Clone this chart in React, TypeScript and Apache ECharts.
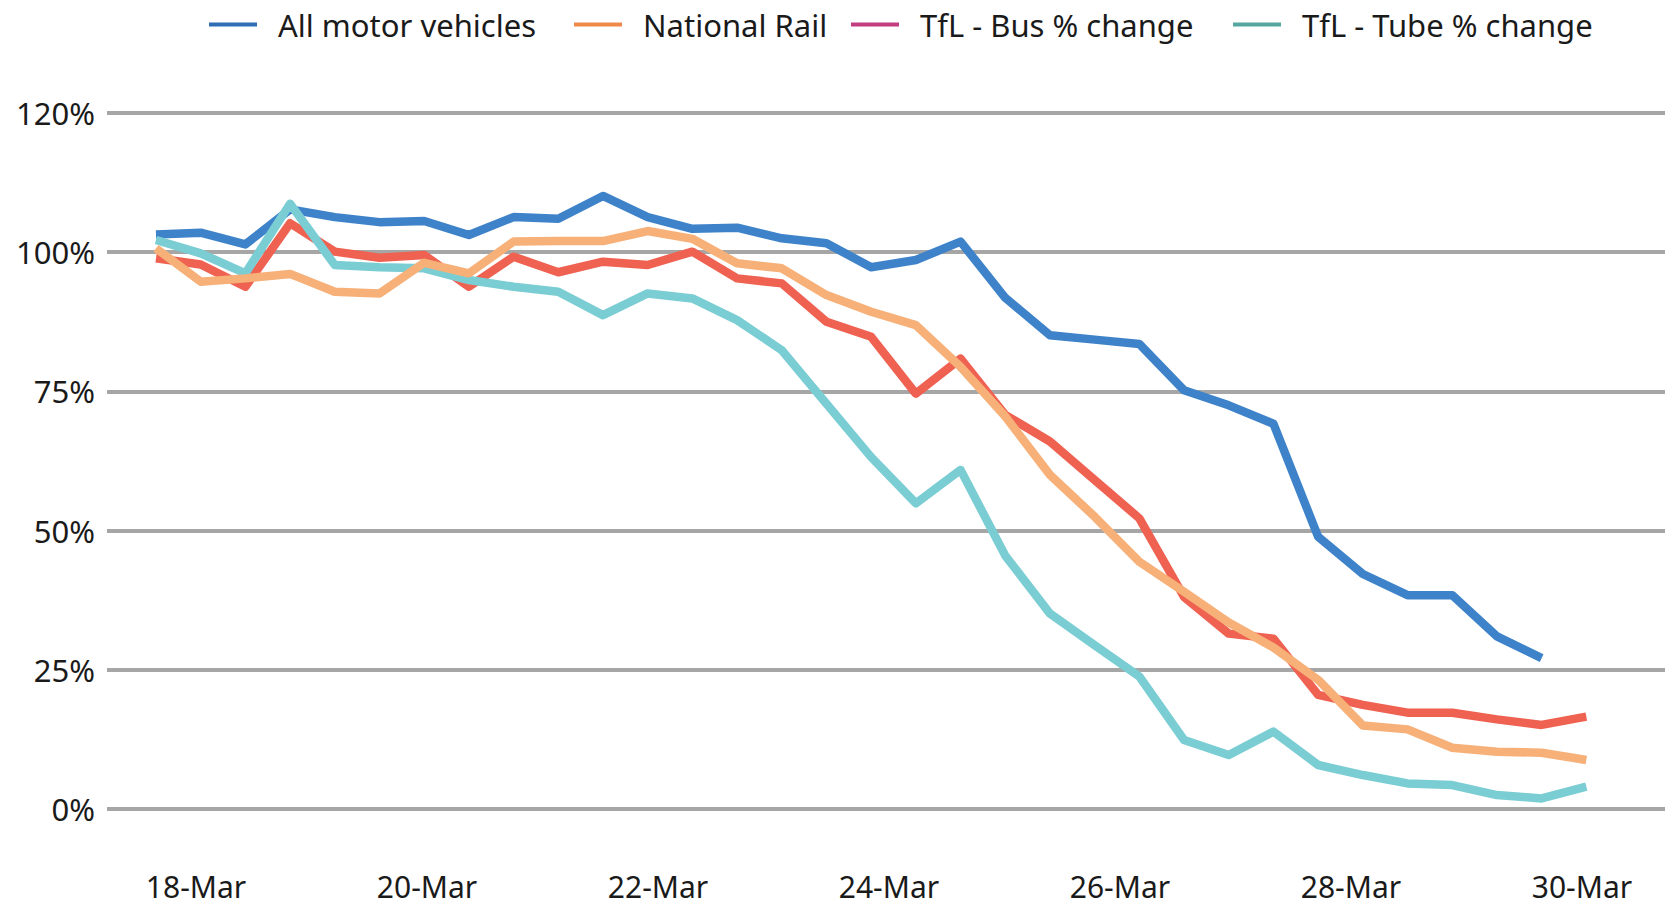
import React, { useEffect, useRef } from "react";
import * as echarts from "echarts";

const motorVehicles = [
  103.2, 103.5, 101.4, 107.7, 106.3, 105.4, 105.6, 103.1, 106.3, 106.0, 110.1,
  106.3, 104.2, 104.4, 102.5, 101.6, 97.3, 98.6, 101.9, 91.8, 85.1, 84.3, 83.5,
  75.2, 72.5, 69.2, 48.9, 42.2, 38.4, 38.4, 31.0, 27.1,
];
const nationalRail = [
  100.7, 94.7, 95.3, 96.1, 92.9, 92.6, 98.1, 96.2, 101.9, 102.0, 102.0, 103.8,
  102.4, 98.0, 97.1, 92.3, 89.3, 86.9, 79.4, 70.5, 60.0, 52.5, 44.4, 39.0, 33.5,
  29.0, 23.2, 15.0, 14.3, 11.0, 10.3, 10.1, 8.8,
];
const tflBus = [
  98.9, 97.8, 93.8, 105.2, 100.1, 99.0, 99.5, 93.8, 99.2, 96.4, 98.3, 97.7,
  100.1, 95.3, 94.4, 87.5, 84.8, 74.6, 80.9, 70.8, 66.0, 59.1, 52.2, 38.1, 31.5,
  30.6, 20.5, 18.7, 17.3, 17.3, 16.1, 15.1, 16.6,
];
const tflTube = [
  102.2, 99.8, 96.2, 108.7, 97.7, 97.3, 97.1, 95.0, 93.8, 92.9, 88.7, 92.6,
  91.7, 87.8, 82.4, 72.8, 63.2, 54.9, 60.9, 45.5, 35.1, 29.4, 23.8, 12.4, 9.7,
  13.9, 7.9, 6.1, 4.6, 4.3, 2.5, 1.9, 4.0,
];

// Axis labels
const dateLabels = ["18-Mar", "20-Mar", "22-Mar", "24-Mar", "26-Mar", "28-Mar", "30-Mar"];
const dateLabelDays = [0, 2, 4, 6, 8, 10, 12];
const yTickLabels = ["0%", "25%", "50%", "75%", "100%", "120%"];

const seriesNames = [
  "All motor vehicles",
  "National Rail",
  "TfL - Bus % change",
  "TfL - Tube % change",
];
const lineColors = ["#3E83C9", "#F6B078", "#EF6151", "#7BCDD4"];
const legendColors = ["#2F6DB5", "#EF8A4B", "#C23D7E", "#55A8A0"];
const legendLefts = [204, 569, 846, 1228];

const FONT = "'Noto Sans', sans-serif";

export default function App() {
  const ref = useRef<HTMLDivElement>(null);

  useEffect(() => {
    if (!ref.current) return;
    const chart = echarts.init(ref.current, undefined, { renderer: "svg" });

    const toPairs = (arr: number[]) => arr.map((v, i) => [i, v]);
    const dataSets = [motorVehicles, nationalRail, tflBus, tflTube];
    // drawing order: motor, bus, tube, rail (rail on top)
    const drawOrder = [0, 2, 3, 1];

    const series = drawOrder.map((idx) => ({
      name: seriesNames[idx],
      type: "line",
      xAxisIndex: 0,
      yAxisIndex: 0,
      data: toPairs(dataSets[idx]),
      symbol: "none",
      smooth: false,
      color: lineColors[idx],
      lineStyle: { width: 8.5, color: lineColors[idx], join: "round", cap: "butt" },
      emphasis: { disabled: true },
    }));

    const legends = seriesNames.map((name, i) => ({
      show: true,
      left: legendLefts[i],
      top: 4,
      orient: "horizontal",
      icon: "rect",
      itemWidth: 48,
      itemHeight: 4,
      selectedMode: false,
      textStyle: {
        fontFamily: FONT,
        fontSize: 31,
        color: "#1a1a1a",
        padding: [0, 0, 0, 16],
      },
      data: [
        {
          name,
          itemStyle: { color: legendColors[i] },
          lineStyle: { color: legendColors[i] },
        },
      ],
    }));

    chart.setOption({
      animation: false,
      backgroundColor: "#ffffff",
      legend: legends,
      grid: { left: 107, right: 0, top: 113, bottom: 99, containLabel: false },
      xAxis: [
        {
          type: "value",
          show: false,
          min: -1.096,
          max: 33.76,
          splitLine: { show: false },
        },
        {
          type: "value",
          position: "bottom",
          min: -0.771,
          max: 12.719,
          axisLine: { show: false },
          axisTick: { show: false },
          splitLine: { show: false },
          axisLabel: {
            customValues: dateLabelDays,
            formatter: (v: number) => {
              const i = dateLabelDays.indexOf(Math.round(v));
              return i >= 0 ? dateLabels[i] : "";
            },
            fontFamily: FONT,
            fontSize: 30,
            color: "#1a1a1a",
            margin: 62,
          },
        },
      ],
      yAxis: {
        type: "value",
        min: 0,
        max: 125,
        interval: 25,
        axisLine: { show: false },
        axisTick: { show: false },
        splitLine: { show: true, lineStyle: { color: "#A6A6A6", width: 4 } },
        axisLabel: {
          formatter: (v: number) => yTickLabels[Math.round(v / 25)] ?? "",
          fontFamily: FONT,
          fontSize: 31,
          color: "#1a1a1a",
          margin: 12,
        },
      },
      series,
    });

    return () => chart.dispose();
  }, []);

  return (
    <div
      ref={ref}
      style={{ position: "fixed", left: 0, top: 0, width: 1665, height: 908 }}
    />
  );
}
